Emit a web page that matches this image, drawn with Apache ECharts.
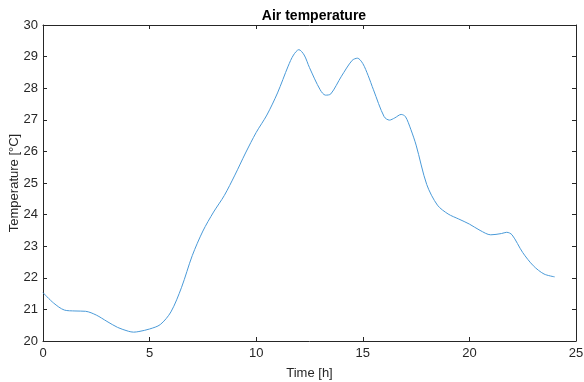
<!DOCTYPE html>
<html>
<head>
<meta charset="utf-8">
<script src="https://cdn.jsdelivr.net/npm/echarts@6/dist/echarts.min.js"></script>
<style>
  html, body { margin: 0; padding: 0; background: #fff; }
  #main { width: 584px; height: 382px; }
</style>
</head>
<body>
<div id="main"></div>
<script>
// hours and air temperature
var hours = [0, 0.5, 1, 1.5, 2, 2.5, 3, 3.5, 4, 4.25, 4.5, 5, 5.5, 6, 6.5, 7, 7.5, 8, 8.5, 9, 9.5,
    10, 10.5, 11, 11.5, 11.75, 12, 12.25, 12.5, 13, 13.25, 13.5, 14, 14.5, 14.75, 15, 15.25, 15.5,
    16, 16.25, 16.5, 16.8, 17, 17.25, 17.5, 18, 18.5, 19, 19.5, 20, 20.5, 21, 21.5, 21.75, 22,
    22.5, 23, 23.5, 24];
var temps = [21.53, 21.2, 20.98, 20.95, 20.94, 20.82, 20.62, 20.43, 20.31, 20.28, 20.3, 20.38, 20.52, 20.92, 21.7, 22.7, 23.48, 24.08, 24.6, 25.25, 25.95,
    26.6, 27.15, 27.85, 28.7, 29.05, 29.22, 29.05, 28.65, 27.95, 27.78, 27.82, 28.38, 28.88, 28.95, 28.78, 28.4, 27.95,
    27.1, 26.99, 27.06, 27.17, 27.1, 26.7, 26.2, 24.95, 24.3, 24.02, 23.86, 23.7, 23.5, 23.36, 23.4, 23.44, 23.36,
    22.8, 22.38, 22.12, 22.03];
var xTicks = [0, 5, 10, 15, 20, 25];
var yTicks = [20, 21, 22, 23, 24, 25, 26, 27, 28, 29, 30];

var axisColor = '#262626';
var font = 'Liberation Sans, Arial, sans-serif';

var myChart = echarts.init(document.getElementById('main'));

var points = hours.map(function (h, i) { return [h, temps[i]]; });

var option = {
    animation: false,
    title: {
        text: 'Air temperature',
        left: 309,
        textAlign: 'center',
        top: 4,
        textStyle: { fontFamily: font, fontSize: 14, fontWeight: 'bold', color: '#000' }
    },
    grid: {
        left: 43,
        right: 8,
        top: 25,
        bottom: 41,
        outerBoundsMode: 'none'
    },
    xAxis: [
        {
            type: 'value',
            min: xTicks[0],
            max: xTicks[xTicks.length - 1],
            interval: 5,
            name: 'Time [h]',
            nameLocation: 'middle',
            nameGap: 26,
            nameMoveOverlap: false,
            nameTextStyle: { fontFamily: font, fontSize: 13, color: axisColor },
            axisLine: { onZero: false, lineStyle: { color: axisColor } },
            axisTick: { inside: true, length: 4, lineStyle: { color: axisColor } },
            axisLabel: { fontFamily: font, fontSize: 13, color: axisColor, margin: 6 },
            splitLine: { show: false }
        },
        {
            type: 'value',
            position: 'top',
            min: xTicks[0],
            max: xTicks[xTicks.length - 1],
            interval: 5,
            axisLine: { onZero: false, lineStyle: { color: axisColor } },
            axisTick: { inside: true, length: 4, lineStyle: { color: axisColor } },
            axisLabel: { show: false },
            splitLine: { show: false }
        }
    ],
    yAxis: [
        {
            type: 'value',
            min: yTicks[0],
            max: yTicks[yTicks.length - 1],
            interval: 1,
            name: 'Temperature [°C]',
            nameLocation: 'middle',
            nameGap: 22,
            nameMoveOverlap: false,
            nameTextStyle: { fontFamily: font, fontSize: 13, color: axisColor },
            axisLine: { show: true, onZero: false, lineStyle: { color: axisColor } },
            axisTick: { show: true, inside: true, length: 4, lineStyle: { color: axisColor } },
            axisLabel: { fontFamily: font, fontSize: 13, color: axisColor, margin: 5 },
            splitLine: { show: false }
        },
        {
            type: 'value',
            position: 'right',
            min: yTicks[0],
            max: yTicks[yTicks.length - 1],
            interval: 1,
            axisLine: { show: true, onZero: false, lineStyle: { color: axisColor } },
            axisTick: { show: true, inside: true, length: 4, lineStyle: { color: axisColor } },
            axisLabel: { show: false },
            splitLine: { show: false }
        }
    ],
    series: [
        {
            name: 'Air temperature',
            type: 'line',
            smooth: 0.3,
            showSymbol: false,
            data: points,
            lineStyle: { color: '#4a9ad8', width: 1 }
        }
    ]
};
myChart.setOption(option);
</script>
</body>
</html>
